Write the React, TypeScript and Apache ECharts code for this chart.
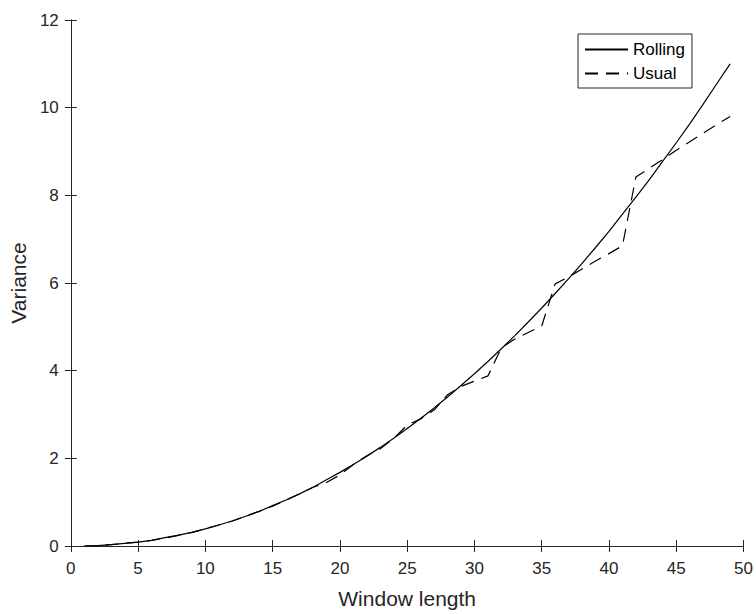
import React, { useEffect, useRef } from "react";
import * as echarts from "echarts";

const windowLengths = [
  1, 2, 3, 4, 5, 6, 7, 8, 9, 10, 11, 12, 13, 14, 15, 16, 17, 18, 19, 20, 21, 22, 23, 24, 25,
  26, 27, 28, 29, 30, 31, 32, 33, 34, 35, 36, 37, 38, 39, 40, 41, 42, 43, 44, 45, 46, 47, 48, 49,
];

const rollingVariance = [
  0.0, 0.01, 0.03, 0.06, 0.09, 0.13, 0.19, 0.25, 0.31, 0.39, 0.48, 0.57, 0.68, 0.79, 0.92, 1.05,
  1.19, 1.34, 1.51, 1.68, 1.86, 2.05, 2.25, 2.46, 2.68, 2.91, 3.15, 3.4, 3.66, 3.93, 4.21, 4.5,
  4.8, 5.11, 5.43, 5.76, 6.1, 6.45, 6.81, 7.18, 7.57, 7.96, 8.36, 8.78, 9.2, 9.63, 10.08, 10.54,
  11.0,
];

const usualVariance = [
  0.0, 0.01, 0.03, 0.06, 0.09, 0.13, 0.18, 0.24, 0.31, 0.39, 0.48, 0.57, 0.68, 0.79, 0.91, 1.05,
  1.19, 1.34, 1.45, 1.62, 1.86, 2.06, 2.22, 2.45, 2.76, 2.9, 3.1, 3.45, 3.64, 3.76, 3.88, 4.52,
  4.72, 4.87, 5.02, 5.98, 6.14, 6.32, 6.5, 6.67, 6.85, 8.42, 8.62, 8.82, 9.03, 9.22, 9.42, 9.61,
  9.8,
];

const seriesNames = ["Rolling", "Usual"];
const xAxisName = "Window length";
const yAxisName = "Variance";

const FONT = "'Liberation Sans', Arial, Helvetica, sans-serif";
const AXIS_COLOR = "#262626";

export default function App() {
  const ref = useRef<HTMLDivElement>(null);

  useEffect(() => {
    if (!ref.current) return;
    const chart = echarts.init(ref.current, undefined, { renderer: "svg" });

    const axisCommon = {
      axisLine: { show: true, lineStyle: { color: AXIS_COLOR, width: 1 } },
      axisTick: { show: true, inside: true, length: 6, lineStyle: { color: AXIS_COLOR } },
      splitLine: { show: false },
    };

    chart.setOption({
      animation: false,
      backgroundColor: "#ffffff",
      textStyle: { fontFamily: FONT },
      grid: { left: 69.5, right: 9.5, top: 20, bottom: 65, containLabel: false },
      legend: {
        data: seriesNames,
        orient: "vertical",
        left: 578,
        top: 34,
        itemWidth: 43,
        itemHeight: 14,
        itemGap: 7,
        padding: [7, 7, 6, 6],
        borderColor: AXIS_COLOR,
        borderWidth: 1,
        backgroundColor: "#ffffff",
        itemStyle: { opacity: 0, borderWidth: 0 },
        textStyle: { fontSize: 17, color: "#000000", fontFamily: FONT },
      },
      xAxis: [
        {
          type: "value",
          min: 0,
          max: 50,
          interval: 5,
          position: "bottom",
          ...axisCommon,
          axisLabel: { fontSize: 17, color: AXIS_COLOR, margin: 14, fontFamily: FONT },
          name: xAxisName,
          nameLocation: "middle",
          nameGap: 42,
          nameTextStyle: { fontSize: 21, color: AXIS_COLOR, fontFamily: FONT },
        },
        {
          type: "value",
          min: 0,
          max: 50,
          interval: 5,
          position: "top",
          ...axisCommon,
          axisLabel: { show: false },
        },
      ],
      yAxis: [
        {
          type: "value",
          min: 0,
          max: 12,
          interval: 2,
          position: "left",
          ...axisCommon,
          axisLabel: { fontSize: 17, color: AXIS_COLOR, margin: 12, fontFamily: FONT },
          name: yAxisName,
          nameLocation: "middle",
          nameGap: 40,
          nameRotate: 90,
          nameTextStyle: { fontSize: 21, color: AXIS_COLOR, fontFamily: FONT },
        },
        {
          type: "value",
          min: 0,
          max: 12,
          interval: 2,
          position: "right",
          ...axisCommon,
          axisLabel: { show: false },
        },
      ],
      series: [
        {
          name: seriesNames[0],
          type: "line",
          xAxisIndex: 0,
          yAxisIndex: 0,
          symbol: "none",
          showSymbol: false,
          color: "#000000",
          lineStyle: { color: "#000000", width: 1.2, type: "solid" },
          data: windowLengths.map((x, i) => [x, rollingVariance[i]]),
        },
        {
          name: seriesNames[1],
          type: "line",
          xAxisIndex: 0,
          yAxisIndex: 0,
          symbol: "none",
          showSymbol: false,
          color: "#000000",
          lineStyle: { color: "#000000", width: 1.2, type: [13, 8] },
          data: windowLengths.map((x, i) => [x, usualVariance[i]]),
        },
      ],
    });

    return () => chart.dispose();
  }, []);

  return (
    <div
      ref={ref}
      style={{ position: "fixed", left: 0, top: 0, width: 756, height: 614, background: "#fff" }}
    />
  );
}
